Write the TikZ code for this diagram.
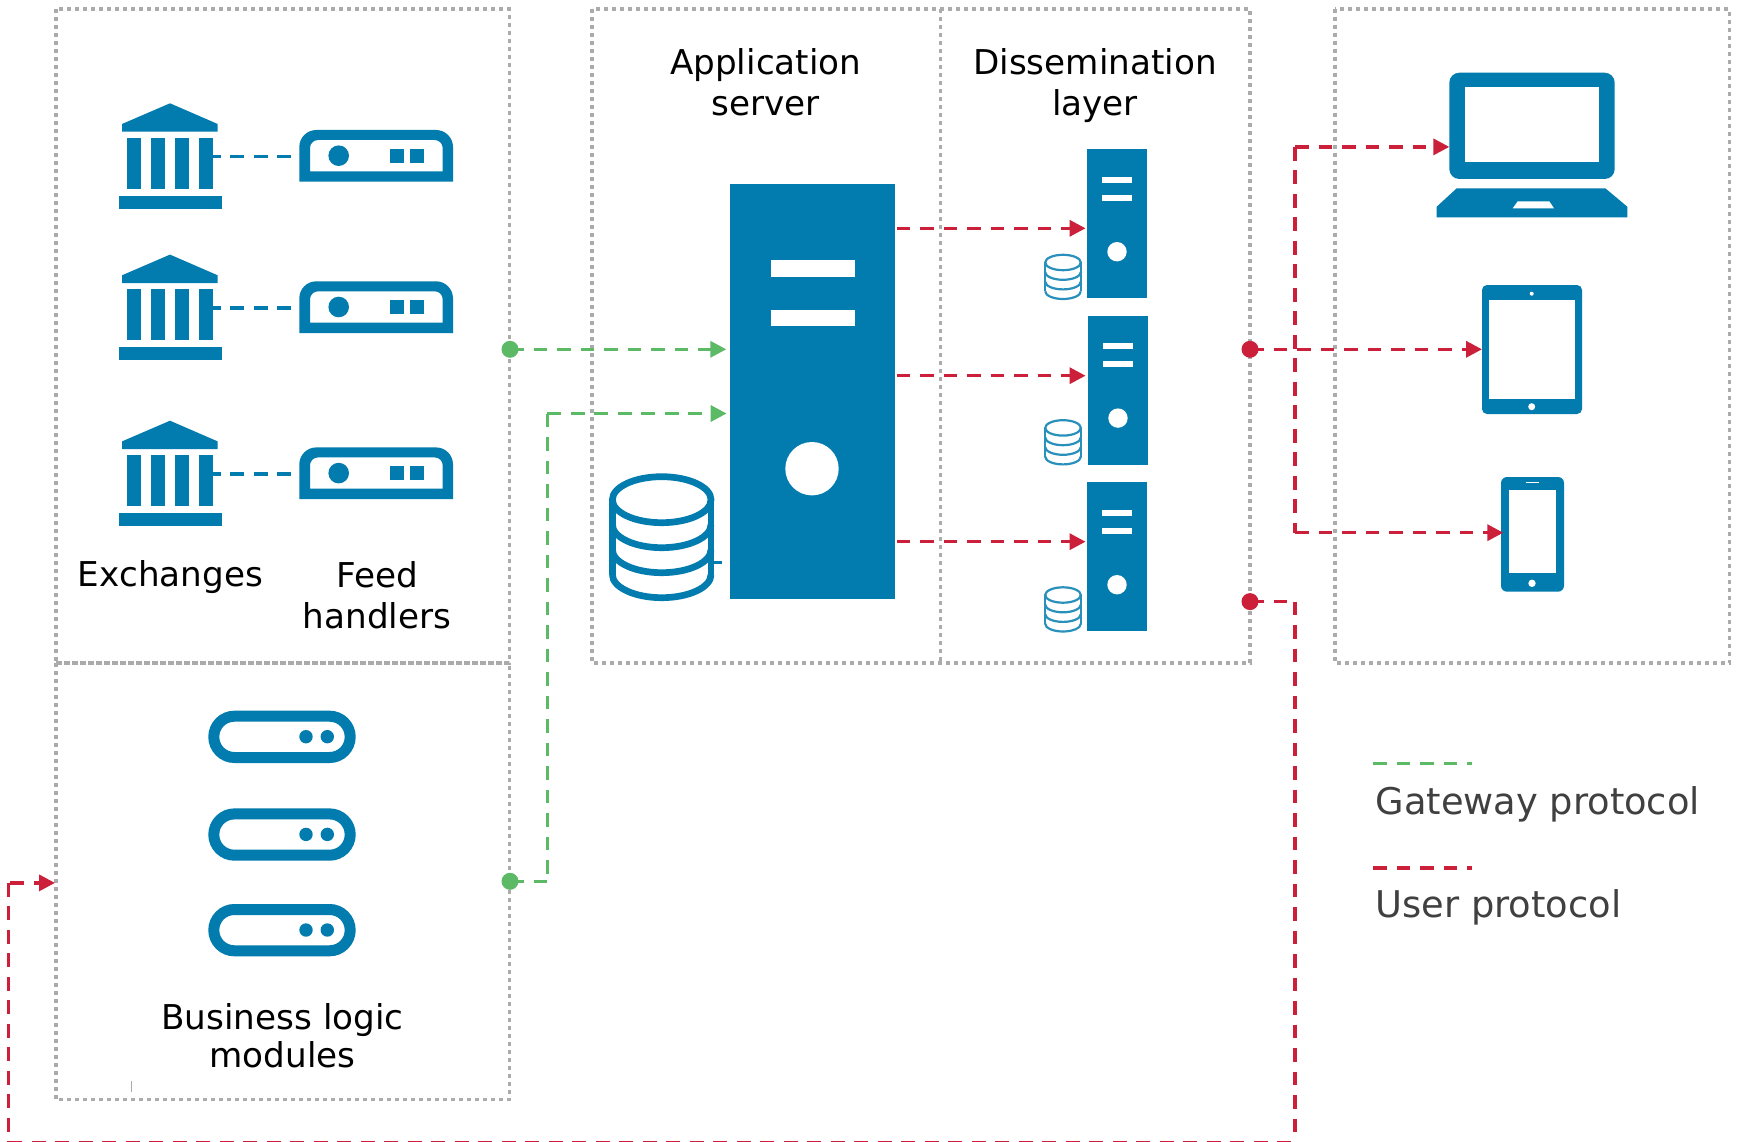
\documentclass[tikz,border=0pt]{standalone}
\usepackage{fontspec}
\setmainfont{DejaVu Sans}
\usetikzlibrary{arrows.meta,calc}
\definecolor{iconblue}{HTML}{027CAF}
\definecolor{flowgreen}{HTML}{5CB965}
\definecolor{flowred}{HTML}{CC1F39}
\definecolor{boxgray}{HTML}{ABABAB}
\definecolor{legendtext}{HTML}{404040}
\newcommand{\dbicon}[7][iconblue]{%
  % cx, top centre y, rx, ry, step, line width
  \draw[#1,line width=#7] (#2,#3) ellipse [x radius=#4,y radius=#5];
  \draw[#1,line width=#7] (#2-#4,#3) -- (#2-#4,#3+3*#6);
  \draw[#1,line width=#7] (#2+#4,#3) -- (#2+#4,#3+3*#6);
  \foreach \k in {1,2,3}{
    \draw[#1,line width=#7] (#2-#4,#3+\k*#6) .. controls (#2-#4,#3+\k*#6+0.55*#5) and (#2-0.55*#4,#3+\k*#6+#5) .. (#2,#3+\k*#6+#5) .. controls (#2+0.55*#4,#3+\k*#6+#5) and (#2+#4,#3+\k*#6+0.55*#5) .. (#2+#4,#3+\k*#6);
  }
}
\tikzset{
  x=1pt,y=-1pt,
  zone/.style={boxgray,line width=3.8pt,dash pattern=on 4pt off 4pt},
  seg/.style={line width=3.4pt,dash pattern=on 13.7pt off 9.8pt},
  flow/.style={seg,-{Triangle[length=16pt,width=16pt]}},
  gseg/.style={seg,flowgreen},
  rseg/.style={seg,flowred},
  gflow/.style={flow,flowgreen},
  rflow/.style={flow,flowred},
  link/.style={iconblue,seg},
  gdot/.style={circle,fill=flowgreen,minimum size=17pt,inner sep=0pt},
  rdot/.style={circle,fill=flowred,minimum size=17pt,inner sep=0pt},
  label/.style={anchor=base,align=center,font=\fontsize{34.2}{41.5}\selectfont,text=black},
  legendlabel/.style={anchor=base west,font=\fontsize{36.8}{41}\selectfont,text=legendtext},
  solidbox/.style={fill=iconblue,inner sep=0pt,rectangle},
  bank/.pic={
    \fill[iconblue] (170,103.3) -- (217.7,124) -- (217.7,131.7) -- (122,131.7) -- (122,124) -- cycle;
    \foreach \cx in {127,151,175,199}{\fill[iconblue] (\cx,138) rectangle (\cx+14,188.7);}
    \fill[iconblue] (119,196) rectangle (222,208.7);
    \coordinate (-out) at (213,156.7);
  },
  feed/.pic={
    \fill[iconblue,even odd rule] (299.3,181.7) -- (299.3,147) .. controls (299.3,137.6) and (306.9,130) .. (316.3,130) -- (436,130) .. controls (445.4,130) and (453,137.6) .. (453,147) -- (453,181.7) -- cycle
      (310,171.3) -- (310,148) .. controls (310,143.6) and (313.6,140) .. (318,140) -- (434.7,140) .. controls (439.1,140) and (442.7,143.6) .. (442.7,148) -- (442.7,171.3) -- cycle;
    \fill[iconblue] (338.7,155.7) circle [radius=10.3];
    \fill[iconblue] (390,149) rectangle (404,163);
    \fill[iconblue] (410,149) rectangle (424,163);
    \coordinate (-in) at (291,156.7);
  },
  rail/.pic={
    \draw[iconblue,line width=11pt,rounded corners=20.6pt] (213.8,716.2) rectangle (350.2,757.5);
    \fill[iconblue] (306,736.7) circle [radius=6.7];
    \fill[iconblue] (327.3,736.7) circle [radius=6.7];
  },
  dsface/.pic={
    \fill[white] (1102.3,176.7) rectangle (1132.3,182.7);
    \fill[white] (1102.3,194.7) rectangle (1132.3,200.7);
    \fill[white] (1117,251.7) circle [radius=9.7];
  },
  dsdb/.pic={
    \dbicon[iconblue!85]{1063}{262.5}{17.8}{7.7}{9.6}{2.2pt}
  },
}
\begin{document}
\begin{tikzpicture}
\useasboundingbox (0,0) rectangle (1740,1142);
\fill[white] (0,0) rectangle (1740,1142);

% zones
\draw[zone] (55.7,9) rectangle (509.5,663);
\draw[zone] (55.7,663) rectangle (509.5,1099.5);
\draw[zone] (592,9) rectangle (1250,663);
\coordinate (divTop) at (940.5,9);
\coordinate (divBot) at (940.5,663);
\draw[zone] (divTop) -- (divBot);
\draw[zone] (1335,9) rectangle (1729.5,663);
\draw[boxgray,line width=1pt] (131.3,1081) -- (131.3,1091.7);

% exchanges and feed handlers
\pic (bankA) at (0,0) {bank};
\pic (bankB) at (0,151.3) {bank};
\pic (bankC) at (0,317.4) {bank};
\pic (feedA) at (0,0) {feed};
\pic (feedB) at (0,151.3) {feed};
\pic (feedC) at (0,317.4) {feed};
\draw[link,dash phase=6.2pt] (bankA-out) -- (feedA-in);
\draw[link,dash phase=6.2pt] (bankB-out) -- (feedB-in);
\draw[link,dash phase=6.2pt] (bankC-out) -- (feedC-in);
\node[label] (lblExchanges) at (170.4,586) {Exchanges};
\node[label] (lblFeed) at (377,628.5) {Feed\\handlers};

% business logic modules
\pic (railA) at (0,0) {rail};
\pic (railB) at (0,97.7) {rail};
\pic (railC) at (0,193.3) {rail};
\node[label,font=\fontsize{34.2}{37.5}\selectfont] (lblBusiness) at (282.5,1067) {Business logic\\modules};

% application server
\node[label] (lblApp) at (765.7,116) {Application\\server};
\node[solidbox,minimum width=165pt,minimum height=415.6pt] (appsrv) at (812.3,391.5) {};
\fill[white] (771.3,259.7) rectangle (855,277);
\fill[white] (771.3,310.3) rectangle (855,326.3);
\fill[white] (812,468.7) circle [radius=26.7];
\dbicon{661.7}{499.7}{49.3}{23}{25}{6.7pt}
\coordinate (appdbOut) at (714.3,562.7);
\coordinate (appdbTick) at (722,562.7);
\draw[iconblue,line width=2.7pt] (appdbOut) -- (appdbTick);

% dissemination layer
\node[label] (lblDiss) at (1095,116) {Dissemination\\layer};
\node[solidbox,minimum width=59.7pt,minimum height=149pt] (dsA) at (1116.9,223.8) {};
\node[solidbox,minimum width=59.7pt,minimum height=149pt] (dsB) at (1117.9,390.2) {};
\node[solidbox,minimum width=59.7pt,minimum height=149pt] (dsC) at (1116.9,556.8) {};
\pic (dsfaceA) at (0,0) {dsface};
\pic (dsfaceB) at (1,166.4) {dsface};
\pic (dsfaceC) at (0,333) {dsface};
\pic (dsdbA) at (0,0) {dsdb};
\pic (dsdbB) at (0,165.4) {dsdb};
\pic (dsdbC) at (0,332.5) {dsdb};

% client devices
\fill[iconblue,rounded corners=10pt] (1449.3,72.7) rectangle (1614.7,179);
\fill[white] (1465.3,86.7) rectangle (1599.3,162.3);
\fill[iconblue] (1456.7,188.3) -- (1605.3,188.3) -- (1627.3,206.7) -- (1627.3,217.3) -- (1436.7,217.3) -- (1436.7,206.7) -- cycle;
\fill[white] (1517.7,201.3) -- (1549.3,201.3) -- (1554,208.3) -- (1512.7,208.3) -- cycle;
\coordinate (laptop) at (1449.3,146.9);

\fill[iconblue,rounded corners=5pt] (1482,285) rectangle (1582,414);
\fill[white] (1488.7,300.3) rectangle (1575.3,399);
\fill[white] (1531.7,293.7) circle [radius=2];
\fill[white] (1531.7,406.7) circle [radius=3.5];
\coordinate (tablet) at (1482,349.3);

\fill[iconblue,rounded corners=6pt] (1501,477) rectangle (1564,591.7);
\fill[white] (1509,490) rectangle (1556,573.3);
\draw[white,line width=1.3pt] (1525.7,482.3) -- (1538.7,482.3);
\fill[white] (1532,583.3) circle [radius=3.7];
\coordinate (phone) at (1503.3,532.7);

% gateway flows
\node[gdot] (gA) at (510,349.3) {};
\node[gdot] (gB) at (510,881.3) {};
\coordinate (gBturn) at (547.3,881.3);
\coordinate (gBup) at (547.3,413.5);
\draw[gflow,shorten >=3.3pt] (gA.center) -- (gA.center -| appsrv.west);
\draw[gseg] (gB.center) -- (gBturn);
\draw[gseg] (gBup) -- (gBturn);
\draw[gflow,shorten >=3pt] (gBup) -- (gBup -| appsrv.west);

% user flows
\coordinate (rsA) at (896.7,228.3);
\coordinate (rsB) at (896.7,375.7);
\coordinate (rsC) at (896.7,541.7);
\draw[rflow,shorten >=1.3pt] (rsA) -- (rsA -| dsA.west);
\draw[rflow,shorten >=2.3pt] (rsB) -- (rsB -| dsB.west);
\draw[rflow,shorten >=1.3pt] (rsC) -- (rsC -| dsC.west);

\node[rdot] (rA) at (1250,349.3) {};
\node[rdot] (rB) at (1250,601.6) {};
\coordinate (busTop) at (1295,146.9);
\coordinate (busBot) at (1295,532.7);
\draw[rflow] (rA.center) -- (tablet);
\draw[rseg] (busTop) -- (busBot);
\draw[rflow] (busTop) -- (laptop);
\draw[rflow] (busBot) -- (phone);
\coordinate (loopA) at (1295,601.6);
\coordinate (loopB) at (1295,1142.8);
\coordinate (loopC) at (8.3,1142.8);
\coordinate (loopD) at (8.3,882.9);
\coordinate (loopE) at (10,882.9);
\coordinate (loopEnd) at (55,882.9);
\draw[rseg] (rB.center) -- (loopA);
\draw[rseg] (loopA) -- (loopB);
\draw[rseg] (loopC) -- (loopB);
\draw[rseg] (loopD) -- (loopC);
\draw[rflow] (loopE) -- (loopEnd);

% legend
\coordinate (lgA) at (1373,763.5);
\coordinate (lgB) at (1472,763.5);
\coordinate (lrA) at (1373,868);
\coordinate (lrB) at (1472,868);
\draw[gseg] (lgA) -- (lgB);
\draw[rseg] (lrA) -- (lrB);
\node[legendlabel] (lblGateway) at (1372,814) {Gateway protocol};
\node[legendlabel] (lblUser) at (1372,917) {User protocol};
\end{tikzpicture}
\end{document}
